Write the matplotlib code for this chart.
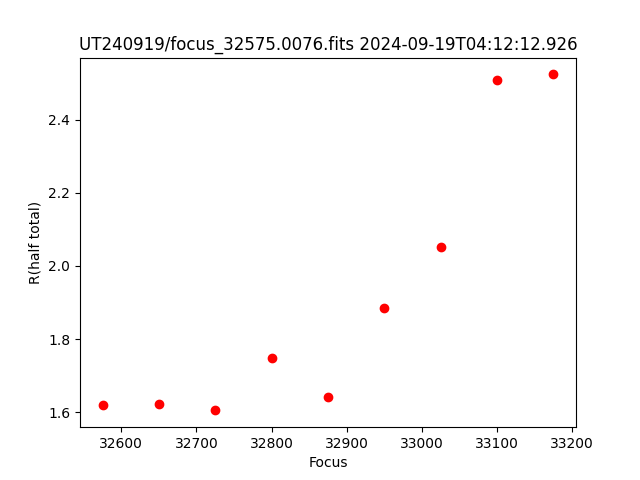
import matplotlib
matplotlib.use('Agg')
import matplotlib.pyplot as plt

# focus positions and measured half-total radius
focus = [32575, 32650, 32725, 32800, 32875, 32950, 33025, 33100, 33175]
r_half = [1.619, 1.622, 1.605, 1.747, 1.641, 1.884, 2.051, 2.508, 2.524]

title = 'UT240919/focus_32575.0076.fits 2024-09-19T04:12:12.926'

fig = plt.figure(figsize=(6.4, 4.8), dpi=100)
plt.plot(focus, r_half, 'ro')
plt.xlabel('Focus')
plt.ylabel('R(half total)')
plt.title(title)
fig.savefig('out.png')
